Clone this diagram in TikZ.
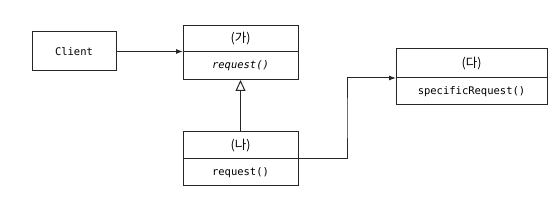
\documentclass[tikz,border=0pt]{standalone}
\usepackage{fontspec}
\newfontfamily\codefont{DejaVu Sans Mono}
\newfontfamily\kofont{Noto Sans CJK KR}
\usepackage{tikz}
\usetikzlibrary{arrows.meta,positioning,calc}

\begin{document}
\begin{tikzpicture}[
  x=1pt, y=-1pt,
  part/.style={rectangle, draw=black!85, line width=1pt, outer sep=0pt,
               inner sep=0pt, minimum height=27pt},
  namebox/.style={part, font=\kofont\fontsize{12.5}{14}\selectfont},
  opbox/.style={part, font=\codefont\fontsize{10.5}{12}\selectfont},
  arr/.style={-{Latex[length=7pt,width=5pt]}, line width=1pt, draw=black!85},
  inh/.style={-{Triangle[open,length=11pt,width=10pt]}, line width=1pt, draw=black!85}
]
  \useasboundingbox (0,0) rectangle (559,205);

  \node[opbox, minimum width=84pt, minimum height=39pt] (client) at (74,51.5) {Client};

  \node[namebox, minimum width=115pt, minimum height=26pt] (ga) at (240.5,39) {(가)};
  \node[opbox, minimum width=115pt, minimum height=28pt, below=0pt of ga] (gaop) {\itshape request()};

  \node[namebox, minimum width=115pt] (na) at (240.5,145.5) {(나)};
  \node[opbox, minimum width=115pt, below=0pt of na] (naop) {request()};

  \node[namebox, minimum width=151pt, minimum height=29pt] (da) at (471.5,63.5) {(다)};
  \node[opbox, minimum width=151pt, below=0pt of da] (daop) {specificRequest()};

  \draw[arr] (client.east) -- (client.east -| ga.west);
  \draw[inh] (na.north) -- (gaop.south);
  \draw[arr] (na.south east) -| ($(na.south east)!0.5!(da.south west)$) |- (da.south west);
\end{tikzpicture}
\end{document}
